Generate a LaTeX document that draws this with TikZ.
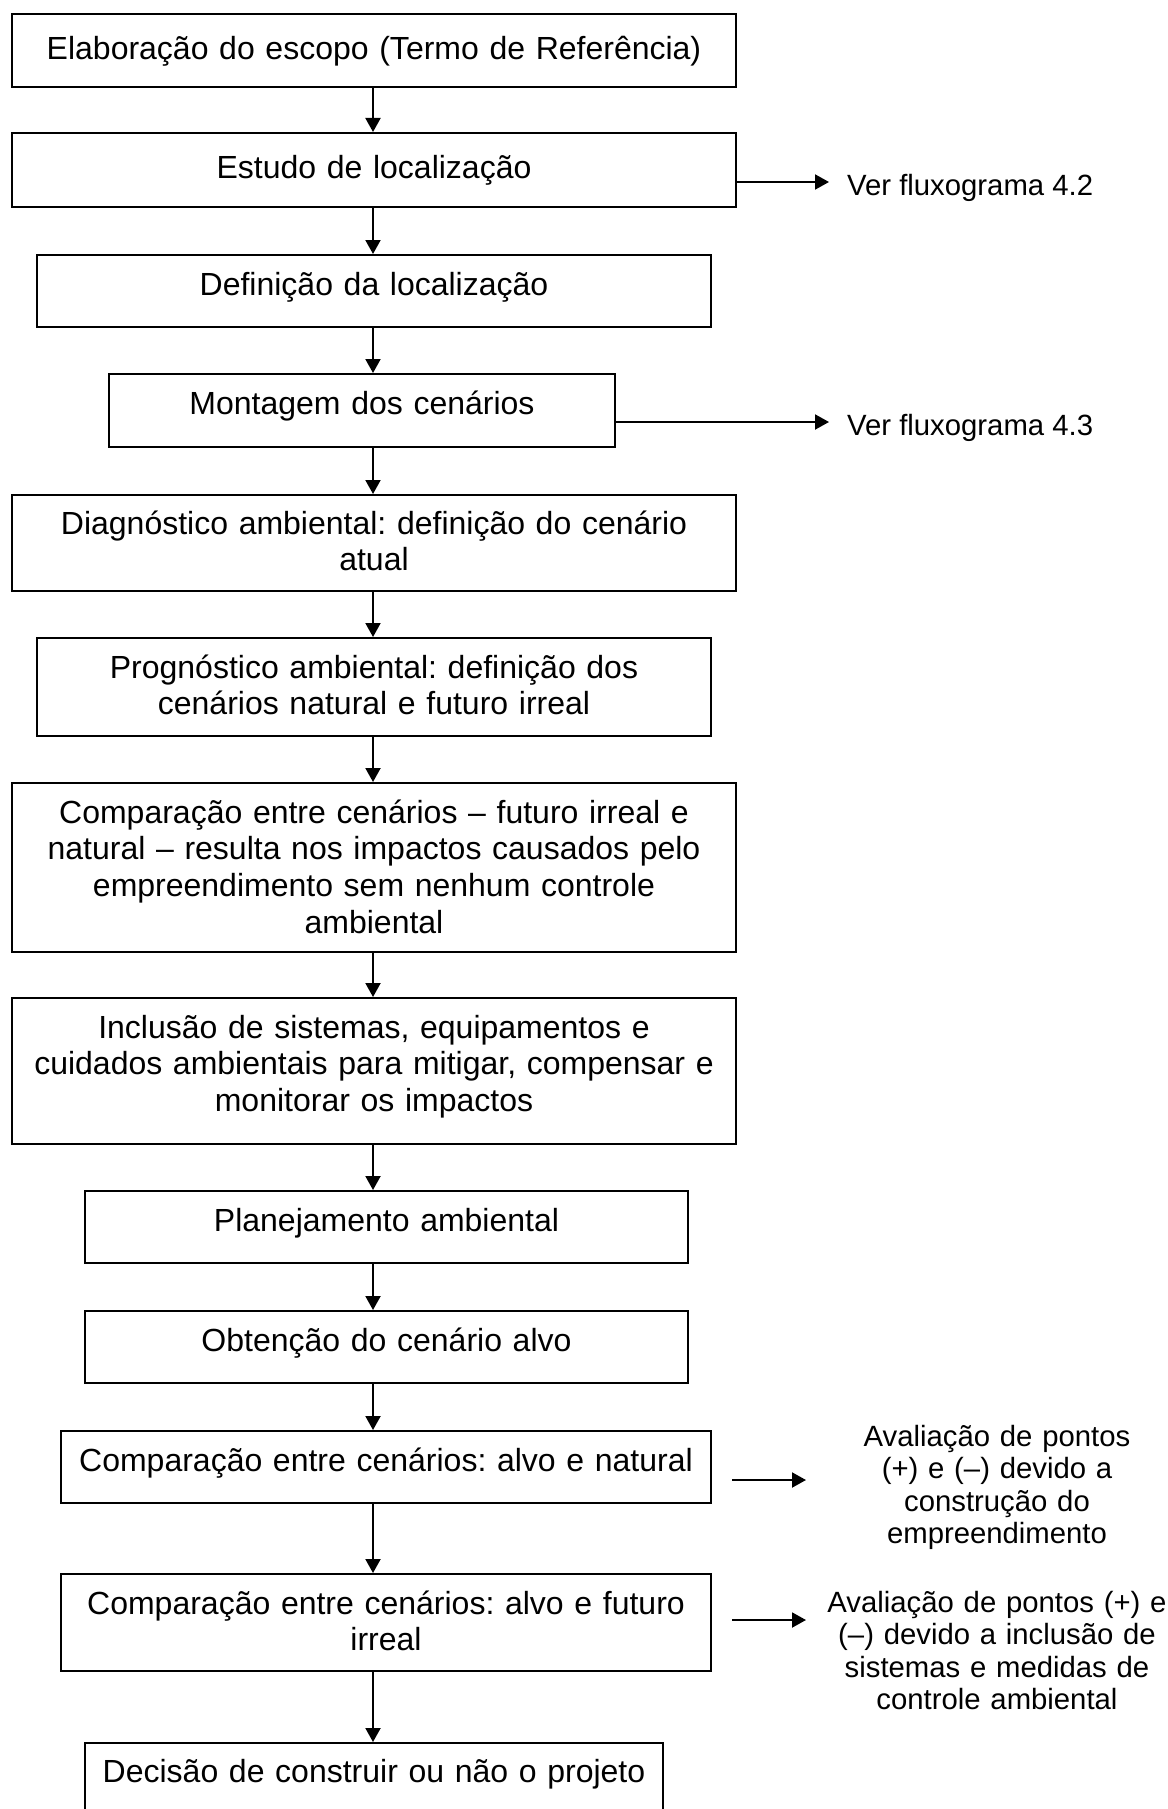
\documentclass[tikz,border=0pt]{standalone}
\usepackage{fontspec}
\setmainfont{Liberation Sans}
\usetikzlibrary{arrows.meta,positioning}
\frenchspacing

\tikzset{
  etapa/.style={draw,line width=2pt,anchor=north west,inner sep=0pt},
  etapatxt/.style={anchor=base,align=center,inner sep=0pt,
    font=\fontsize{32}{36.8}\selectfont},
  lado/.style={inner sep=0pt,font=\fontsize{29.3}{32.5}\selectfont},
  seta/.style={line width=2pt,-{Triangle[length=14pt,width=15pt]}}
}

\begin{document}
\begin{tikzpicture}[x=1pt,y=-1pt]
  \useasboundingbox (0,0) rectangle (1167,1809);
  \coordinate (eixo) at (373,0);

  % caixas do fluxograma
  \node[etapa,minimum width=724pt,minimum height=73pt] (escopo) at (11,13) {};
  \node[etapa,minimum width=724pt,minimum height=74pt] (estudo) at (11,132) {};
  \node[etapa,minimum width=674pt,minimum height=72pt] (definicao) at (36,254) {};
  \node[etapa,minimum width=506pt,minimum height=73pt] (montagem) at (108,373) {};
  \node[etapa,minimum width=724pt,minimum height=96pt] (diagnostico) at (11,494) {};
  \node[etapa,minimum width=674pt,minimum height=98pt] (prognostico) at (36,637) {};
  \node[etapa,minimum width=724pt,minimum height=169pt] (comparacao) at (11,782) {};
  \node[etapa,minimum width=724pt,minimum height=146pt] (inclusao) at (11,997) {};
  \node[etapa,minimum width=603pt,minimum height=72pt] (planejamento) at (84,1190) {};
  \node[etapa,minimum width=603pt,minimum height=72pt] (alvo) at (84,1310) {};
  \node[etapa,minimum width=650pt,minimum height=72pt] (compnat) at (60,1430) {};
  \node[etapa,minimum width=650pt,minimum height=97pt] (compfut) at (60,1573) {};
  \node[etapa,minimum width=578pt,minimum height=110pt] (decisao) at (84,1742) {};

  % textos das caixas
  \node[etapatxt,text width=720pt] (escopo-t) at ([yshift=-47pt]escopo.north)
    {Elaboração do escopo (Termo de Referência)};
  \node[etapatxt,text width=720pt] (estudo-t) at ([yshift=-46pt]estudo.north)
    {Estudo de localização};
  \node[etapatxt,text width=670pt] (definicao-t) at ([yshift=-41pt]definicao.north)
    {Definição da localização};
  \node[etapatxt,text width=500pt] (montagem-t) at ([yshift=-41pt]montagem.north)
    {Montagem dos cenários};
  \node[etapatxt,text width=720pt] (diagnostico-t) at ([yshift=-40pt]diagnostico.north)
    {Diagnóstico ambiental: definição do cenário\\atual};
  \node[etapatxt,text width=670pt] (prognostico-t) at ([yshift=-41pt]prognostico.north)
    {Prognóstico ambiental: definição dos\\cenários natural e futuro irreal};
  \node[etapatxt,text width=720pt] (comparacao-t) at ([yshift=-41pt]comparacao.north)
    {Comparação entre cenários – futuro irreal e\\natural – resulta nos impactos causados pelo\\empreendimento sem nenhum controle\\ambiental};
  \node[etapatxt,text width=720pt] (inclusao-t) at ([yshift=-41pt]inclusao.north)
    {Inclusão de sistemas, equipamentos e\\cuidados ambientais para mitigar, compensar e\\monitorar os impactos};
  \node[etapatxt,text width=600pt] (planejamento-t) at ([yshift=-41pt]planejamento.north)
    {Planejamento ambiental};
  \node[etapatxt,text width=600pt] (alvo-t) at ([yshift=-41pt]alvo.north)
    {Obtenção do cenário alvo};
  \node[etapatxt,text width=646pt] (compnat-t) at ([yshift=-41pt]compnat.north)
    {Comparação entre cenários: alvo e natural};
  \node[etapatxt,text width=646pt] (compfut-t) at ([yshift=-41pt]compfut.north)
    {Comparação entre cenários: alvo e futuro\\irreal};
  \node[etapatxt,text width=574pt] (decisao-t) at ([yshift=-40pt]decisao.north)
    {Decisão de construir ou não o projeto};

  % setas verticais
  \foreach \a/\b in {escopo/estudo,estudo/definicao,definicao/montagem,
      montagem/diagnostico,diagnostico/prognostico,prognostico/comparacao,
      comparacao/inclusao,inclusao/planejamento,planejamento/alvo,
      alvo/compnat,compnat/compfut,compfut/decisao}
    \draw[seta] (\a.south -| eixo) -- (\b.north -| eixo);

  % remissoes
  \coordinate (v42) at (829,182);
  \coordinate (v43) at (829,422);
  \draw[seta] (v42 -| estudo.east) -- (v42);
  \draw[seta] (v43 -| montagem.east) -- (v43);
  \node[lado,anchor=base west] (ver42) at ([xshift=18pt,yshift=-13pt]v42) {Ver fluxograma 4.2};
  \node[lado,anchor=base west] (ver43) at ([xshift=18pt,yshift=-13pt]v43) {Ver fluxograma 4.3};

  % avaliacoes
  \coordinate (p1) at (732,1480);
  \coordinate (q1) at (806,1480);
  \coordinate (p2) at (732,1620);
  \coordinate (q2) at (806,1620);
  \draw[seta] (p1) -- (q1);
  \draw[seta] (p2) -- (q2);
  \node[lado,anchor=base,align=center,text width=345pt] (aval1) at (997,1446)
    {Avaliação de pontos\\(+) e (–) devido a\\construção do\\empreendimento};
  \node[lado,anchor=base,align=center,text width=345pt] (aval2) at (997,1612)
    {Avaliação de pontos (+) e\\(–) devido a inclusão de\\sistemas e medidas de\\controle ambiental};
\end{tikzpicture}
\end{document}
